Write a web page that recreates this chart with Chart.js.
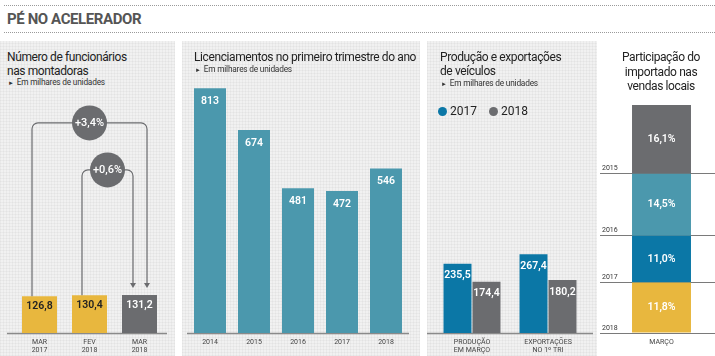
<!DOCTYPE html>
<html>
<head>
<meta charset="utf-8">
<script src="https://cdn.jsdelivr.net/npm/chart.js@4"></script>
<style>
  body { margin: 0; width: 715px; height: 356px; background: #fff; font-family: Roboto, sans-serif; position: relative; overflow: hidden; color: #222; }
  .abs { position: absolute; }
  .rule { position: absolute; left: 4px; right: 0; border-top: 1px dotted #9a9a9a; }
  .panel { position: absolute; top: 41px; bottom: 0; background-color: #f1f1f1;
    background-image: repeating-linear-gradient(0deg, rgba(0,0,0,0.03) 0 1px, transparent 1px 3px),
                      repeating-linear-gradient(90deg, rgba(0,0,0,0.03) 0 1px, transparent 1px 3px); }
  canvas { position: absolute; }
  .ttl { position: absolute; font-size: 12px; line-height: 14px; color: #222; letter-spacing: -0.4px; z-index: 2; white-space: nowrap; }
  .sub { position: absolute; font-size: 8.3px; color: #333; z-index: 2; letter-spacing: -0.2px; white-space: nowrap; }
  .sub span { font-size: 6px; margin-right: 3px; }
  #legend { position: absolute; left: 438px; top: 104px; font-size: 12px; color: #222; z-index: 2; }
  #legend i { display: inline-block; width: 9px; height: 9px; border-radius: 50%; vertical-align: -1px; margin-right: 3px; }
  #legend b { font-weight: normal; margin-right: 12px; }
</style>
</head>
<body>
<div class="rule" style="top:5px"></div>
<div class="abs" style="left:7px;top:10px;font-size:15px;font-weight:bold;color:#555;letter-spacing:-0.4px">PÉ NO ACELERADOR</div>
<div class="rule" style="top:32px"></div>

<div class="panel" style="left:0;width:175px"></div>
<div class="panel" style="left:182px;width:238px"></div>
<div class="panel" style="left:427px;width:170px"></div>

<div class="ttl" style="left:7px;top:50px">Número de funcionários<br>nas montadoras</div>
<div class="sub" style="left:8px;top:77px"><span>►</span>Em milhares de unidades</div>
<div class="ttl" style="left:194px;top:50px">Licenciamentos no primeiro trimestre do ano</div>
<div class="sub" style="left:195px;top:64px"><span>►</span>Em milhares de unidades</div>
<div class="ttl" style="left:440px;top:50px">Produção e exportações<br>de veículos</div>
<div class="sub" style="left:441px;top:78px"><span>►</span>Em milhares de unidades</div>
<div id="legend"></div>
<div class="ttl" style="left:600px;width:122px;top:50px;text-align:center;line-height:14.5px">Participação do<br>importado nas<br>vendas locais</div>

<canvas id="c1" width="175" height="266" style="left:0;top:90px"></canvas>
<canvas id="c2" width="238" height="316" style="left:182px;top:40px"></canvas>
<canvas id="c3" width="170" height="316" style="left:427px;top:40px"></canvas>
<canvas id="c4" width="118" height="316" style="left:597px;top:40px"></canvas>

<script>
// data
const staffCats = [['MAR', '2017'], ['FEV', '2018'], ['MAR', '2018']];
const staffVals = [126.8, 130.4, 131.2];
const staffChanges = ['+3,4%', '+0,6%'];

const licYears = ['2014', '2015', '2016', '2017', '2018'];
const licVals = [813, 674, 481, 472, 546];

const prodCats = [['PRODUÇÃO', 'EM MARÇO'], ['EXPORTAÇÕES', 'NO 1º TRI']];
const prodSeries = ['2017', '2018'];
const prod2017 = [235.5, 267.4];
const prod2018 = [174.4, 180.2];

const shareCats = ['MARÇO'];
const shareYears = ['2018', '2017', '2016', '2015'];
const shareVals = [11.8, 11.0, 14.5, 16.1];

// colours
const YELLOW = '#e8b73e', GRAY = '#6b6c6f', TEAL = '#4b98ad', BLUE = '#0b77a6';
const FONT = 'Roboto';

const fmt = {
  int: v => String(v),
  dec: v => v.toFixed(1).replace('.', ','),
  pct: v => v.toFixed(1).replace('.', ',') + '%'
};

// value labels inside the bars
const valueLabels = {
  id: 'valueLabels',
  afterDatasetsDraw(chart, args, opts) {
    const ctx = chart.ctx;
    ctx.save();
    ctx.font = '600 10.5px ' + FONT;
    ctx.textAlign = 'center';
    ctx.textBaseline = 'middle';
    chart.data.datasets.forEach((ds, di) => {
      chart.getDatasetMeta(di).data.forEach((bar, i) => {
        const y = opts.center ? (bar.y + bar.base) / 2 : bar.y + opts.offset;
        ctx.fillStyle = opts.colors ? opts.colors[i] : '#fff';
        ctx.fillText(fmt[opts.format](ds.data[i]), bar.x, y);
      });
    });
    ctx.restore();
  }
};

// baseline a bit wider than the plot area
const baseline = {
  id: 'baseline',
  beforeDatasetsDraw(chart, args, opts) {
    if (!opts.show) return;
    const {ctx, chartArea} = chart;
    const y = Math.round(chart.scales.y.getPixelForValue(0)) + 0.5;
    ctx.save();
    ctx.strokeStyle = '#8a8a8a';
    ctx.lineWidth = 1.5;
    ctx.beginPath();
    ctx.moveTo(chartArea.left - opts.left, y);
    ctx.lineTo(chartArea.right + opts.right, y);
    ctx.stroke();
    ctx.restore();
  }
};

Chart.register(valueLabels, baseline);
Chart.defaults.font.family = FONT;
Chart.defaults.color = '#333';

const common = (extra) => ({
  responsive: false,
  animation: false,
  devicePixelRatio: 1,
  plugins: Object.assign({ legend: { display: false }, tooltip: { enabled: false } }, extra)
});

const xAxis = {
  grid: { display: false, drawTicks: false },
  border: { display: false },
  ticks: { font: { size: 7 }, color: '#444', padding: 5, maxRotation: 0, autoSkip: false },
  afterFit: s => { s.height = 23; }
};

// panel 1: connectors + percentage bubbles
const connectors = {
  id: 'connectors',
  afterDatasetsDraw(chart) {
    const ctx = chart.ctx;
    const bars = chart.getDatasetMeta(0).data;
    const tipY = bars[2].y - 7;
    const links = [
      { from: bars[0].x - 7.5, start: bars[0].y, to: bars[2].x + 7.5, h: bars[2].y - 172, text: staffChanges[0] },
      { from: bars[1].x - 7.5, start: bars[1].y, to: bars[2].x - 6.5, h: bars[2].y - 125, text: staffChanges[1] }
    ];
    const r = 6;
    ctx.save();
    links.forEach(l => {
      ctx.strokeStyle = GRAY;
      ctx.fillStyle = GRAY;
      ctx.lineWidth = 1.2;
      ctx.beginPath();
      ctx.moveTo(l.from, l.start);
      ctx.lineTo(l.from, l.h + r);
      ctx.arcTo(l.from, l.h, l.from + r, l.h, r);
      ctx.lineTo(l.to - r, l.h);
      ctx.arcTo(l.to, l.h, l.to, l.h + r, r);
      ctx.lineTo(l.to, tipY - 4);
      ctx.stroke();
      ctx.beginPath();
      ctx.moveTo(l.to - 3, tipY - 5);
      ctx.lineTo(l.to + 3, tipY - 5);
      ctx.lineTo(l.to, tipY);
      ctx.closePath();
      ctx.fill();
      const cx = (l.from + l.to) / 2;
      ctx.beginPath();
      ctx.arc(cx, l.h, 17.5, 0, Math.PI * 2);
      ctx.fill();
      ctx.fillStyle = '#fff';
      ctx.font = '500 11px ' + FONT;
      ctx.textAlign = 'center';
      ctx.textBaseline = 'middle';
      ctx.fillText(l.text, cx, l.h + 0.5);
    });
    ctx.restore();
  }
};

new Chart(document.getElementById('c1'), {
  type: 'bar',
  data: {
    labels: staffCats,
    datasets: [{ data: staffVals, backgroundColor: [YELLOW, YELLOW, GRAY], barPercentage: 0.7, categoryPercentage: 1 }]
  },
  options: Object.assign(common({
    valueLabels: { format: 'dec', offset: 10, colors: ['#222', '#222', '#fff'] },
    baseline: { show: true, left: 7.5, right: 2.5 }
  }), {
    layout: { padding: { left: 14.5, right: 10.5, top: 5, bottom: 0 } },
    scales: { x: xAxis, y: { display: false, min: 0, max: 820 } }
  }),
  plugins: [connectors]
});

// panel 2
new Chart(document.getElementById('c2'), {
  type: 'bar',
  data: {
    labels: licYears,
    datasets: [{ data: licVals, backgroundColor: TEAL, barPercentage: 0.727, categoryPercentage: 1 }]
  },
  options: Object.assign(common({
    valueLabels: { format: 'int', offset: 13 },
    baseline: { show: true, left: 1, right: 1 }
  }), {
    layout: { padding: { left: 6, right: 12, top: 22, bottom: 0 } },
    scales: { x: xAxis, y: { display: false, min: 0, max: 900 } }
  })
});

// panel 3
document.getElementById('legend').innerHTML = prodSeries
  .map((s, i) => '<i style="background:' + [BLUE, GRAY][i] + '"></i><b>' + s + '</b>').join('');

new Chart(document.getElementById('c3'), {
  type: 'bar',
  data: {
    labels: prodCats,
    datasets: [
      { label: prodSeries[0], data: prod2017, backgroundColor: BLUE, barPercentage: 0.965, categoryPercentage: 0.763 },
      { label: prodSeries[1], data: prod2018, backgroundColor: GRAY, barPercentage: 0.965, categoryPercentage: 0.763 }
    ]
  },
  options: Object.assign(common({
    valueLabels: { format: 'dec', offset: 12 },
    baseline: { show: true, left: 7, right: 7 }
  }), {
    layout: { padding: { left: 7, right: 11, top: 22, bottom: 0 } },
    scales: { x: xAxis, y: { display: false, min: 0, max: 920 } }
  })
});

// panel 4: stacked share, year lines at each segment's base
const shareColors = [YELLOW, BLUE, TEAL, GRAY];
const shareBases = shareVals.map((v, i) => shareVals.slice(0, i).reduce((a, b) => a + b, 0));
const shareTotal = shareVals.reduce((a, b) => a + b, 0);

new Chart(document.getElementById('c4'), {
  type: 'bar',
  data: {
    labels: shareCats,
    datasets: shareYears.map((yr, i) => ({
      label: yr, data: [shareVals[i]], backgroundColor: shareColors[i],
      barPercentage: 0.551, categoryPercentage: 1
    }))
  },
  options: Object.assign(common({
    valueLabels: { format: 'pct', center: true, colors: ['#fff'] }
  }), {
    layout: { padding: { left: 3, right: 0, top: 65, bottom: 0 } },
    scales: {
      x: Object.assign({}, xAxis, { stacked: true }),
      y: {
        stacked: true, min: 0, max: shareTotal,
        border: { display: false },
        grid: { color: '#7a7a7a', lineWidth: 1, drawTicks: true, tickLength: 8 },
        ticks: { mirror: true, padding: -6, labelOffset: -5, font: { size: 7 }, color: '#333',
          callback: (v, i) => shareYears[i] },
        afterBuildTicks: s => { s.ticks = shareBases.map(v => ({ value: v })); },
        afterFit: s => { s.width = 8; }
      }
    }
  })
});
</script>
</body>
</html>
